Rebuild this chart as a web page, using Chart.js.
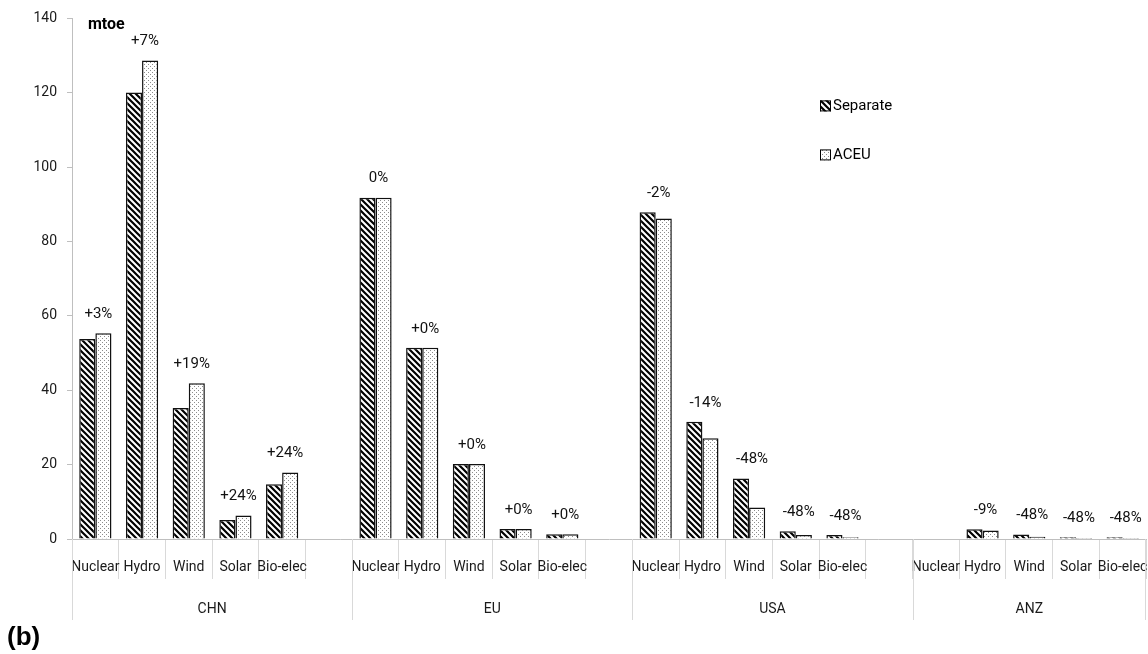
<!DOCTYPE html>
<html>
<head>
<meta charset="utf-8">
<script src="https://cdn.jsdelivr.net/npm/chart.js@4.4.1/dist/chart.umd.min.js"></script>
<style>
  body { margin: 0; background: #fff; }
  #wrap { width: 1148px; height: 654px; position: relative; }
</style>
</head>
<body>
<div id="wrap"><canvas id="chart" width="1148" height="654"></canvas></div>
<script>
const groups = ['CHN', 'EU', 'USA', 'ANZ'];
const techs = ['Nuclear', 'Hydro', 'Wind', 'Solar', 'Bio-elec'];

// mtoe, one slot per technology, an empty slot between regions
const separate = [53.8, 120.1, 35.2, 5.1, 14.7, null,
                  91.8, 51.4, 20.2, 2.7, 1.3, null,
                  87.9, 31.5, 16.3, 2.1, 1.1, null,
                  0, 2.6, 1.2, 0.5, 0.5];
const aceu = [55.3, 128.7, 41.9, 6.3, 17.9, null,
              91.8, 51.4, 20.2, 2.7, 1.3, null,
              86.2, 27.1, 8.5, 1.1, 0.5, null,
              0, 2.3, 0.6, 0.25, 0.25];
const changes = ['+3%', '+7%', '+19%', '+24%', '+24%', '',
                 '0%', '+0%', '+0%', '+0%', '+0%', '',
                 '-2%', '-14%', '-48%', '-48%', '-48%', '',
                 '', '-9%', '-48%', '-48%', '-48%'];
const yTicks = [0, 20, 40, 60, 80, 100, 120, 140];

const FONT = 'Roboto, "Liberation Sans", sans-serif';

// category labels: techs per region, blank slot after each region but the last
const categories = [];
groups.forEach((g, gi) => {
    techs.forEach(t => categories.push(t));
    if (gi < groups.length - 1) categories.push('');
});

// bar fills
function stripePattern() {
    const s = 6;
    const c = document.createElement('canvas');
    c.width = s; c.height = s;
    const p = c.getContext('2d');
    p.fillStyle = '#fff';
    p.fillRect(0, 0, s, s);
    p.strokeStyle = '#000';
    p.lineWidth = 2.2;
    p.beginPath();
    p.moveTo(-1, -1); p.lineTo(s + 1, s + 1);
    p.moveTo(-1, s - 1); p.lineTo(1, s + 1);
    p.moveTo(s - 1, -1); p.lineTo(s + 1, 1);
    p.stroke();
    return p.createPattern(c, 'repeat');
}

function dotPattern() {
    const c = document.createElement('canvas');
    c.width = 4; c.height = 4;
    const p = c.getContext('2d');
    p.fillStyle = '#fff';
    p.fillRect(0, 0, 4, 4);
    p.fillStyle = '#8c8c8c';
    p.fillRect(0, 0, 1, 1);
    p.fillRect(2, 2, 1, 1);
    return p.createPattern(c, 'repeat');
}

const extras = {
    id: 'extras',
    afterDraw(chart) {
        const ctx = chart.ctx;
        const x = chart.scales.x;
        const y = chart.scales.y;
        const slot = x.getPixelForValue(1) - x.getPixelForValue(0);
        ctx.save();

        // change labels above each pair
        ctx.fillStyle = '#111';
        ctx.font = '15px ' + FONT;
        ctx.textAlign = 'center';
        ctx.textBaseline = 'middle';
        changes.forEach((t, i) => {
            if (!t) return;
            const v = Math.max(separate[i] || 0, aceu[i] || 0);
            ctx.fillText(t, x.getPixelForValue(i) + 3, y.getPixelForValue(v) - 19);
        });

        // region separators and names
        ctx.strokeStyle = '#d9d9d9';
        ctx.lineWidth = 1;
        ctx.font = '14px ' + FONT;
        ctx.fillStyle = '#1a1a1a';
        let start = 0;
        groups.forEach((g, gi) => {
            const n = techs.length + (gi < groups.length - 1 ? 1 : 0);
            const left = x.getPixelForValue(start) - slot / 2;
            const right = x.getPixelForValue(start + n - 1) + slot / 2;
            ctx.beginPath();
            ctx.moveTo(Math.round(left) + 0.5, y.bottom);
            ctx.lineTo(Math.round(left) + 0.5, y.bottom + 81);
            if (gi === groups.length - 1) {
                ctx.moveTo(Math.round(right) - 0.5, y.bottom);
                ctx.lineTo(Math.round(right) - 0.5, y.bottom + 81);
            }
            ctx.stroke();
            ctx.fillText(g, (left + right) / 2, y.bottom + 70);
            start += n;
        });

        // unit
        ctx.fillStyle = '#000';
        ctx.textAlign = 'left';
        ctx.font = 'bold 16px ' + FONT;
        ctx.fillText('mtoe', y.right + 16, y.top + 7);

        // legend
        ctx.font = '15px ' + FONT;
        chart.data.datasets.forEach((ds, i) => {
            const lx = chart.chartArea.left + 748;
            const ly = chart.chartArea.top + 87 + i * 49;
            ctx.fillStyle = ds.backgroundColor;
            ctx.fillRect(lx, ly - 5, 11, 11);
            ctx.strokeStyle = '#000';
            ctx.lineWidth = 1;
            ctx.strokeRect(lx + 0.5, ly - 4.5, 10, 10);
            ctx.fillStyle = '#000';
            ctx.fillText(ds.label, lx + 13, ly + 1);
        });

        // panel tag
        ctx.font = 'bold 26px "Liberation Sans", sans-serif';
        ctx.fillText('(b)', 7, 638);
        ctx.restore();
    }
};

new Chart(document.getElementById('chart'), {
    type: 'bar',
    data: {
        labels: categories,
        datasets: [
            {
                label: 'Separate',
                data: separate,
                backgroundColor: stripePattern(),
                borderColor: '#111',
                borderWidth: 1.5,
                categoryPercentage: 0.69,
                barPercentage: 1,
            },
            {
                label: 'ACEU',
                data: aceu,
                backgroundColor: dotPattern(),
                borderColor: '#111',
                borderWidth: 1.5,
                categoryPercentage: 0.69,
                barPercentage: 1,
            },
        ],
    },
    options: {
        responsive: false,
        animation: false,
        devicePixelRatio: 1,
        layout: { padding: { top: 17, right: 2, left: 0, bottom: 0 } },
        plugins: {
            legend: { display: false },
            tooltip: { enabled: false },
        },
        scales: {
            x: {
                grid: {
                    offset: true,
                    drawOnChartArea: false,
                    tickLength: 40,
                    color: '#d9d9d9',
                },
                border: { color: '#bfbfbf' },
                ticks: {
                    autoSkip: false,
                    maxRotation: 0,
                    minRotation: 0,
                    padding: -20,
                    color: '#1a1a1a',
                    font: { family: FONT, size: 14 },
                },
                afterFit(scale) { scale.height = 115; },
            },
            y: {
                min: 0,
                max: 140,
                afterBuildTicks(scale) { scale.ticks = yTicks.map(v => ({ value: v })); },
                grid: {
                    drawOnChartArea: false,
                    tickLength: 5,
                    color: '#bfbfbf',
                },
                border: { color: '#bfbfbf' },
                ticks: {
                    padding: 10,
                    color: '#1a1a1a',
                    font: { family: FONT, size: 14 },
                },
                afterFit(scale) { scale.width = 72; },
            },
        },
    },
    plugins: [extras],
});
</script>
</body>
</html>
